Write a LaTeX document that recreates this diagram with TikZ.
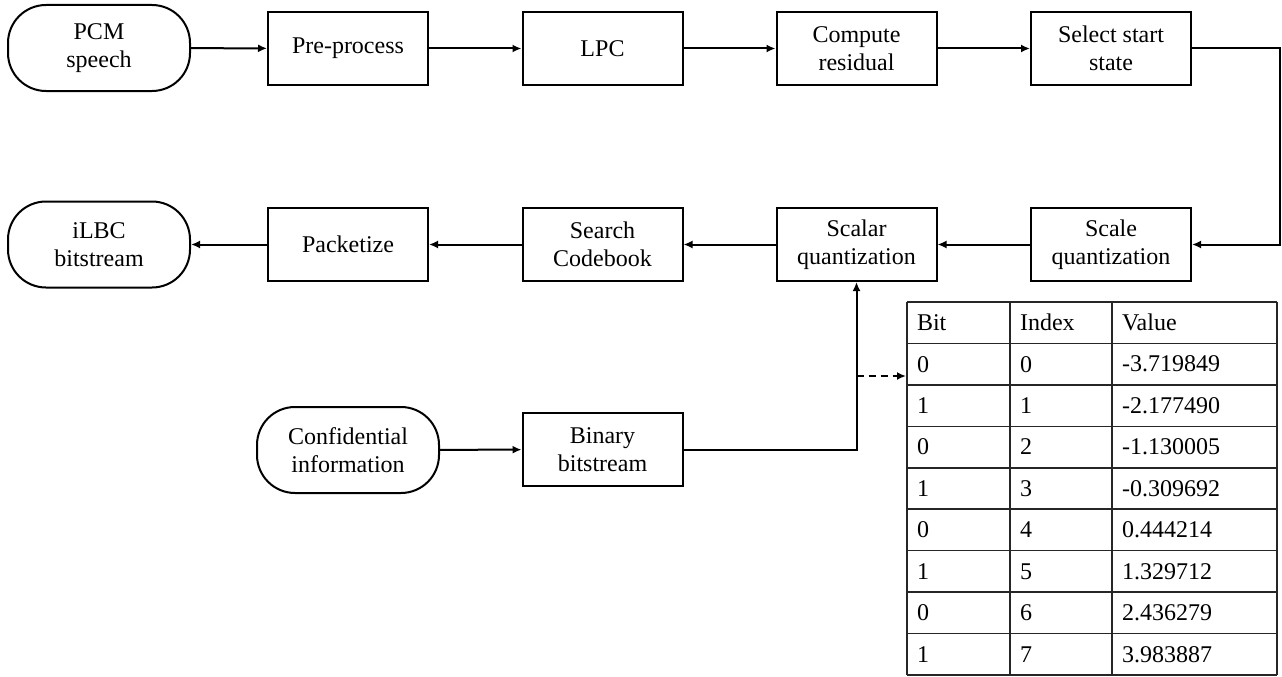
\documentclass[tikz,border=0pt]{standalone}
\usepackage{fontspec}
\setmainfont{Liberation Serif}
\usetikzlibrary{arrows.meta}
\begin{document}
\begin{tikzpicture}[x=1pt,y=-1pt,
  font=\fontsize{24}{28}\selectfont,
  line width=2pt,
  box/.style={draw, minimum width=160pt, minimum height=73pt, align=center, inner sep=0pt},
  term/.style={draw, rounded corners=38pt, minimum width=182pt, minimum height=86pt, align=center, inner sep=0pt},
  arr/.style={-{Latex[length=9pt,width=8pt]}},
  tline/.style={line width=1.6pt, draw=black!85},
  cell/.style={anchor=west, inner sep=0pt, font=\fontsize{24}{28}\selectfont}]
\useasboundingbox (0,0) rectangle (1282,677);

% row 1
\node[term] (pcm) at (99,48) {PCM\\speech};
\node[box] (pre) at (348,48.5) {Pre-process};
\node[box] (lpc) at (602.5,48.5) {LPC};
\node[box] (res) at (856.5,48.5) {Compute\\residual};
\node[box] (sel) at (1111,48.5) {Select start\\state};

% row 2
\node[term] (ilbc) at (99,244.5) {iLBC\\bitstream};
\node[box] (pack) at (348,244.5) {Packetize};
\node[box] (search) at (602.5,244.5) {Search\\Codebook};
\node[box] (scalar) at (856.5,244.5) {Scalar\\quantization};
\node[box] (scale) at (1111,244.5) {Scale\\quantization};

% row 3
\node[term] (conf) at (348,450) {Confidential\\information};
\node[box] (bin) at (602.5,449.5) {Binary\\bitstream};

% connectors
\draw[arr] (pcm) -- (pre);
\draw[arr] (pre) -- (lpc);
\draw[arr] (lpc) -- (res);
\draw[arr] (res) -- (sel);
\draw[arr] (sel.east) -- ++(88,0) |- (scale.east);
\draw[arr] (scale) -- (scalar);
\draw[arr] (scalar) -- (search);
\draw[arr] (search) -- (pack);
\draw[arr] (pack) -- (ilbc);
\draw[arr] (conf) -- (bin);
\draw[arr] (bin.east) -| (scalar.south);

% table
\node[draw=none, minimum width=370pt, minimum height=373pt, inner sep=0pt] (tbl) at (1092,488.5) {};
\foreach \k in {0,...,9} {
  \draw[tline] (907,{302+41.44*\k}) -- (1277,{302+41.44*\k});
}
\draw[tline] (907,302) -- (907,675);
\draw[tline] (1010,302) -- (1010,675);
\draw[tline] (1112,302) -- (1112,675);
\draw[tline] (1277,302) -- (1277,675);
\foreach \b/\i/\v [count=\r from 0] in {Bit/Index/Value,0/0/-3.719849,1/1/-2.177490,0/2/-1.130005,1/3/-0.309692,0/4/0.444214,1/5/1.329712,0/6/2.436279,1/7/3.983887} {
  \node[cell] (b\r) at (916,{302+41.44*(\r+0.5)}) {\b};
  \node[cell] (i\r) at (1019,{302+41.44*(\r+0.5)}) {\i};
  \node[cell] (v\r) at (1121,{302+41.44*(\r+0.5)}) {\v};
}

% dashed link
\coordinate (dstart) at (856.5,376);
\coordinate (tin) at (tbl.west |- dstart);
\draw[arr, dash pattern=on 7pt off 5pt] (dstart) -- (tin);
\end{tikzpicture}
\end{document}
